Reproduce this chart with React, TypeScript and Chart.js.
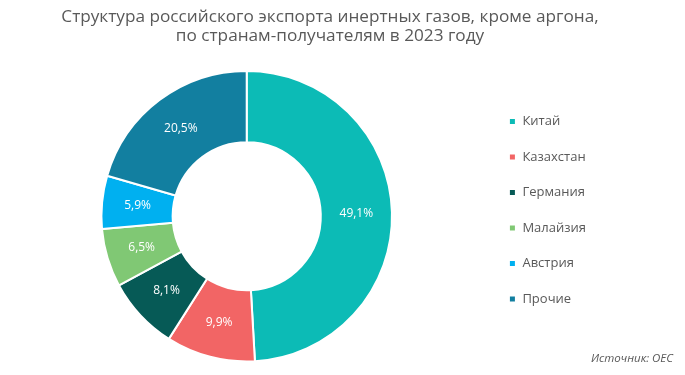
import React, { useEffect, useRef } from "react";
import { Chart, registerables } from "chart.js";

Chart.register(...registerables);

const titleLines = [
  "Структура российского экспорта инертных газов, кроме аргона,",
  "по странам-получателям в 2023 году",
];
const categories = ["Китай", "Казахстан", "Германия", "Малайзия", "Австрия", "Прочие"];
const shares = [49.1, 9.9, 8.1, 6.5, 5.9, 20.5];
const colors = ["#0CBBB6", "#F26565", "#065A56", "#80C874", "#00B0F0", "#127FA0"];
const sourceText = "Источник: OEC";

const FONT = "'Open Sans', 'Noto Sans', sans-serif";

const labelPlugin = {
  id: "sliceLabels",
  afterDatasetsDraw(chart: any) {
    const ctx = chart.ctx;
    const meta = chart.getDatasetMeta(0);
    ctx.save();
    ctx.fillStyle = "#ffffff";
    ctx.font = `12px ${FONT}`;
    ctx.textAlign = "center";
    ctx.textBaseline = "middle";
    meta.data.forEach((arc: any, i: number) => {
      const p = arc.tooltipPosition();
      ctx.fillText(shares[i].toFixed(1).replace(".", ",") + "%", p.x, p.y);
    });
    ctx.restore();
  },
};

const placePlugin = {
  id: "placeBoxes",
  afterLayout(chart: any) {
    const lg = chart.legend;
    if (lg) {
      const dx = -7;
      const dy = 29;
      lg.left += dx;
      lg.right += dx;
      lg.top += dy;
      lg.bottom += dy;
    }
    const tb = chart.titleBlock;
    if (tb) {
      tb.left = 0;
      tb.right = 660;
      tb.width = 660;
    }
  },
};

const sourcePlugin = {
  id: "sourceNote",
  afterDraw(chart: any) {
    const ctx = chart.ctx;
    ctx.save();
    ctx.fillStyle = "#595959";
    ctx.font = `italic 11.5px ${FONT}`;
    ctx.textAlign = "right";
    ctx.textBaseline = "middle";
    ctx.fillText(sourceText, chart.width - 12, 359);
    ctx.restore();
  },
};

export default function App() {
  const ref = useRef<HTMLCanvasElement | null>(null);
  useEffect(() => {
    document.body.style.margin = "0";
    const chart = new Chart(ref.current!, {
      type: "doughnut",
      data: {
        labels: categories,
        datasets: [
          {
            data: shares,
            backgroundColor: colors,
            borderColor: "#ffffff",
            borderWidth: 2,
          },
        ],
      },
      options: {
        animation: false,
        responsive: false,
        cutout: "51%",
        layout: { padding: { left: 0, right: 82, top: 0, bottom: 12.5 } },
        plugins: {
          title: {
            display: true,
            text: titleLines,
            color: "#595959",
            font: { family: FONT, size: 17.2, weight: "normal", lineHeight: 1.1 },
            padding: { top: 7.6, bottom: 24.5 },
          },
          legend: {
            position: "right",
            align: "center",
            labels: {
              boxWidth: 7,
              boxHeight: 7,
              padding: 22.5,
              color: "#595959",
              font: { family: FONT, size: 13 },
            },
          },
          tooltip: { enabled: false },
        },
      },
      plugins: [placePlugin, labelPlugin, sourcePlugin],
    });
    return () => chart.destroy();
  }, []);
  return <canvas ref={ref} width={685} height={375} style={{ display: "block" }} />;
}
